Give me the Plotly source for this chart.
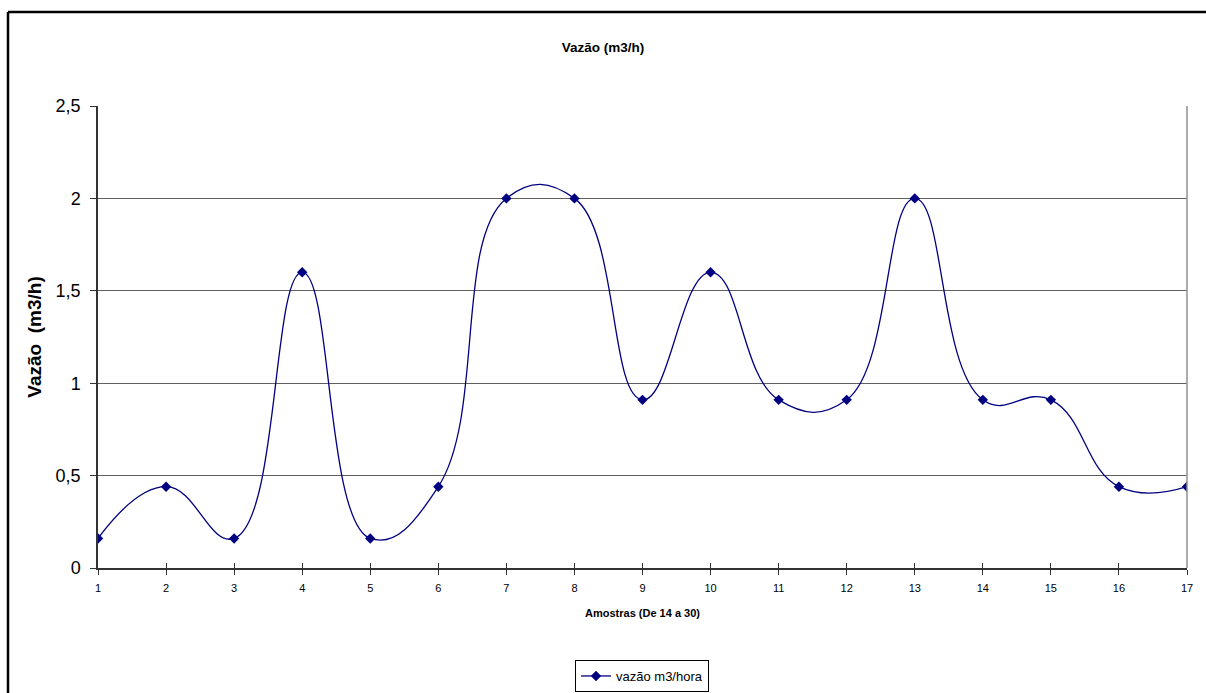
import plotly.graph_objects as go

amostras = list(range(1, 18))
vazao = [0.16, 0.44, 0.16, 1.6, 0.16, 0.44, 2.0, 2.0, 0.91, 1.6, 0.91, 0.91, 2.0, 0.91, 0.91, 0.44, 0.44]
y_ticks = [0, 0.5, 1, 1.5, 2, 2.5]

FONT = "Liberation Sans, Arial, sans-serif"

fig = go.Figure()
fig.add_trace(go.Scatter(
    x=amostras, y=vazao, mode="lines+markers", name="vazão m3/hora",
    line=dict(color="#000080", width=1.3, shape="spline", smoothing=1.3),
    marker=dict(symbol="diamond", size=8, color="#000080"),
))
# invisible helper trace so the overlay axis (inner half of the crossing ticks) is drawn
fig.add_trace(go.Scatter(
    x=amostras, y=vazao, xaxis="x2", mode="markers", marker=dict(opacity=0),
    showlegend=False, hoverinfo="skip",
))

fig.update_layout(
    width=1206, height=693,
    margin=dict(l=98, r=19, t=106, b=125),
    paper_bgcolor="white", plot_bgcolor="white",
    separators=", ",
    font=dict(family=FONT, color="black"),
    title=dict(text="<b>Vazão (m3/h)</b>", x=0.5, xanchor="center", y=1 - 47 / 693, yanchor="middle",
               font=dict(size=13.5, family=FONT)),
    showlegend=True,
    legend=dict(orientation="h", x=642 / 1206, xanchor="center", xref="container",
                y=1 - 676 / 693, yanchor="middle", yref="container",
                bordercolor="black", borderwidth=1, font=dict(size=13, family=FONT),
                itemwidth=30),
    xaxis=dict(range=[1, 17], tickvals=amostras, ticktext=[str(a) for a in amostras],
               showgrid=False, zeroline=False, showline=True, linecolor="#333", linewidth=1.5,
               ticks="outside", ticklen=5, tickcolor="#333", tickfont=dict(size=11, family=FONT),
               ticklabelstandoff=4, automargin=False,
               title=dict(text="<b>Amostras (De 14 a 30)</b>", font=dict(size=11, family=FONT), standoff=16)),
    xaxis2=dict(range=[1, 17], tickvals=amostras, overlaying="x", anchor="y", side="bottom",
                showgrid=False, zeroline=False, showline=False, showticklabels=False,
                ticks="inside", ticklen=5, tickcolor="#333", automargin=False),
    yaxis=dict(range=[0, 2.5], tickvals=y_ticks, tickformat=".1~f",
               showgrid=True, gridcolor="#606060", gridwidth=1, zeroline=False,
               showline=True, linecolor="#333", linewidth=1.5,
               ticks="outside", ticklen=6, tickcolor="#333", tickfont=dict(size=18, family=FONT),
               ticklabelstandoff=6, automargin=False,
               title=dict(text="<b>Vazão  (m3/h)</b>", font=dict(size=19, family=FONT), standoff=9)),
    shapes=[
        dict(type="line", xref="paper", yref="paper", x0=1, x1=1, y0=0, y1=1,
             line=dict(color="#909090", width=1.5)),
        dict(type="line", xref="paper", yref="paper",
             x0=(8 - 98) / 1089, x1=(8 - 98) / 1089, y0=1 + (106 - 12) / 462, y1=-0.3,
             line=dict(color="black", width=2.5)),
        dict(type="line", xref="paper", yref="paper",
             x0=(8 - 98) / 1089, x1=1.05, y0=1 + (106 - 12) / 462, y1=1 + (106 - 12) / 462,
             line=dict(color="black", width=2.5)),
    ],
)

fig.write_html("out.html")
